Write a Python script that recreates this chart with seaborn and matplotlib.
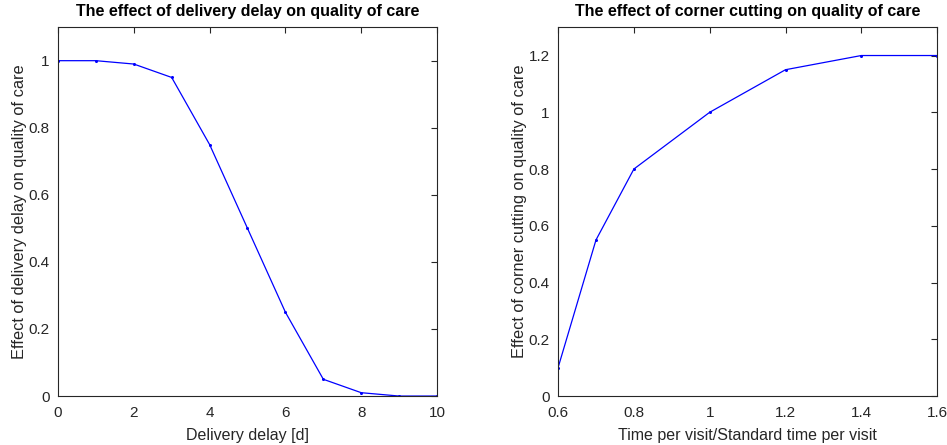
import matplotlib
matplotlib.use("Agg")
import matplotlib.pyplot as plt
import seaborn as sns
import pandas as pd

delay_days = [0, 1, 2, 3, 4, 5, 6, 7, 8, 9, 10]
delay_effect = [1.0, 1.0, 0.99, 0.95, 0.75, 0.5, 0.25, 0.05, 0.01, 0.0, 0.0]

time_ratio = [0.6, 0.7, 0.8, 1.0, 1.2, 1.4, 1.6]
corner_effect = [0.1, 0.55, 0.8, 1.0, 1.15, 1.2, 1.2]

sns.set_style("white")
plt.rcParams['font.family'] = ['Liberation Sans', 'DejaVu Sans']

fig = plt.figure(figsize=(9.47, 4.45), dpi=100)
ax1 = fig.add_axes([0.0612, 0.110, 0.4003, 0.829])
ax2 = fig.add_axes([0.5893, 0.110, 0.4003, 0.829])

df1 = pd.DataFrame({"x": delay_days, "y": delay_effect})
df2 = pd.DataFrame({"x": time_ratio, "y": corner_effect})

sns.lineplot(data=df1, x="x", y="y", ax=ax1, color="#0000ff", linewidth=0.9,
             marker="o", markersize=2.2, markeredgewidth=0)
sns.lineplot(data=df2, x="x", y="y", ax=ax2, color="#0000ff", linewidth=0.9,
             marker="o", markersize=2.2, markeredgewidth=0)

ax1.set_xlim(0, 10)
ax1.set_ylim(0, 1.1)
ax1.set_xticks([0, 2, 4, 6, 8, 10])
ax1.set_yticks([0, 0.2, 0.4, 0.6, 0.8, 1])
ax1.set_yticklabels(["0", "0.2", "0.4", "0.6", "0.8", "1"])
ax1.set_title("The effect of delivery delay on quality of care", fontsize=11.5, fontweight="bold", pad=8)
ax1.set_xlabel("Delivery delay [d]", fontsize=11.5, labelpad=6)
ax1.set_ylabel("Effect of delivery delay on quality of care", fontsize=11.8, labelpad=1)

ax2.set_xlim(0.6, 1.6)
ax2.set_ylim(0, 1.3)
ax2.set_xticks([0.6, 0.8, 1.0, 1.2, 1.4, 1.6])
ax2.set_xticklabels(["0.6", "0.8", "1", "1.2", "1.4", "1.6"])
ax2.set_yticks([0, 0.2, 0.4, 0.6, 0.8, 1.0, 1.2])
ax2.set_yticklabels(["0", "0.2", "0.4", "0.6", "0.8", "1", "1.2"])
ax2.set_title("The effect of corner cutting on quality of care", fontsize=11.5, fontweight="bold", pad=8)
ax2.set_xlabel("Time per visit/Standard time per visit", fontsize=11.5, labelpad=6)
ax2.set_ylabel("Effect of corner cutting on quality of care", fontsize=11.8, labelpad=1)

for ax in (ax1, ax2):
    for s in ax.spines.values():
        s.set_visible(True)
        s.set_color("#262626")
        s.set_linewidth(0.8)
    ax.tick_params(direction="in", length=4, width=0.8, top=True, right=True,
                   labelsize=11, colors="#262626", labelcolor="#262626")
    ax.tick_params(axis="x", pad=7)
    ax.tick_params(axis="y", pad=6)
    ax.xaxis.label.set_color("#262626")
    ax.yaxis.label.set_color("#262626")
    ax.title.set_color("black")

fig.savefig("out.png", dpi=100, facecolor="white")
